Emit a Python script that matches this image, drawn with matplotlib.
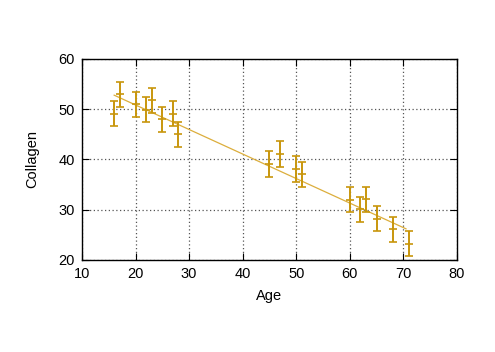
import numpy as np
import matplotlib
matplotlib.use("Agg")
import matplotlib.pyplot as plt

age = [16, 17, 20, 22, 23, 25, 27, 28, 45, 47, 50, 51, 60, 62, 63, 65, 68, 71]
collagen = [49.1, 53.0, 51.0, 49.9, 51.8, 48.0, 49.1, 45.0, 39.1, 41.1, 38.1, 37.1,
            32.0, 30.1, 32.1, 28.2, 26.1, 23.2]
err = [2.5] * len(age)
fit_age = [16, 70.5]
fit_collagen = [52.8, 26.2]
xticks = [10, 20, 30, 40, 50, 60, 70, 80]
yticks = [20, 30, 40, 50, 60]

plt.rcParams['font.family'] = ['Liberation Sans', 'DejaVu Sans']

fig = plt.figure(figsize=(4.95, 3.52), dpi=100)
ax = fig.add_axes([0.1657, 0.2614, 0.923 - 0.1657, 0.8324 - 0.2614])

ax.plot(fit_age, fit_collagen, color='#dcae3c', lw=0.9, zorder=2)

ax.errorbar(age, collagen, yerr=err, fmt='_', color='#c8960c', ecolor='#c8960c',
            elinewidth=1.4, capsize=2.8, capthick=1.4, markersize=6, mew=1.2, zorder=3)

ax.set_xlim(10, 80)
ax.set_ylim(20, 60)
ax.set_xticks(xticks)
ax.set_yticks(yticks)
ax.grid(True, color='#555555', linestyle=(0, (1, 2)), linewidth=0.9)
ax.tick_params(direction='in', top=True, right=True, labelsize=10.5, length=5, pad=5)
for s in ax.spines.values():
    s.set_linewidth(1.0)
ax.set_xlabel('Age', fontsize=10.5, labelpad=6)
ax.set_ylabel('Collagen', fontsize=10.5, labelpad=14)

fig.savefig('out.png', dpi=100)
